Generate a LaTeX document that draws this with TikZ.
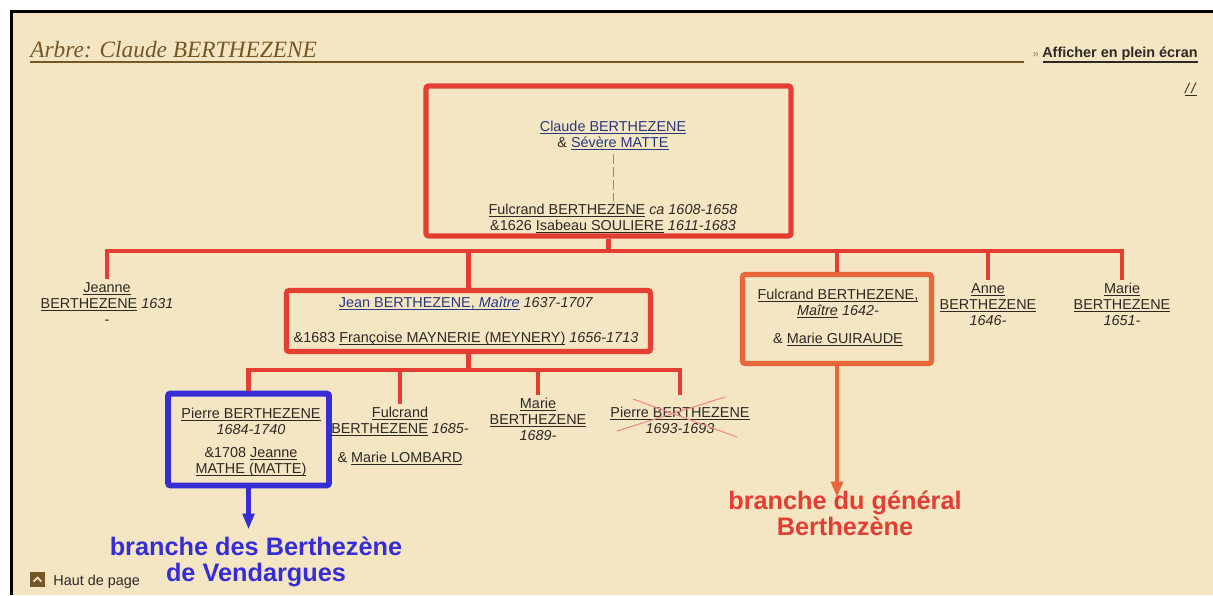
\documentclass[tikz,border=0pt]{standalone}
\usepackage{fontspec}
\setmainfont{Liberation Sans}
\newfontfamily\titlefont{Liberation Serif}
\usetikzlibrary{arrows.meta}

\definecolor{paper}{RGB}{244,230,194}
\definecolor{ink}{RGB}{45,42,38}
\definecolor{linkblue}{RGB}{40,55,130}
\definecolor{treered}{RGB}{228,62,50}
\definecolor{boxorange}{RGB}{232,102,58}
\definecolor{boxblue}{RGB}{55,45,215}
\definecolor{titlebrown}{RGB}{118,86,36}

\newcommand\lnk[1]{\underline{\raisebox{0pt}[\height][0pt]{#1}}}
\newcommand\treefont{\fontsize{8.2}{9.1}\selectfont}

\begin{document}
\begin{tikzpicture}[x=0.02cm,y=-0.02cm,
  tree/.style={draw=treered,line width=2.3pt},
  pbox/.style={draw=#1,line width=3pt,rounded corners=1.5pt,inner sep=0pt},
  person/.style={align=center,inner sep=0pt,inner ysep=1.5pt,font=\treefont,text=ink,anchor=base},
  branchlabel/.style={align=center,inner sep=0pt,font=\fontsize{14.4}{14.6}\selectfont\bfseries,anchor=base},
  branch/.style={draw=#1,line width=2.3pt,-{Triangle[length=9pt,width=6.5pt]}}]
% Page
\useasboundingbox (0,0) rectangle (1213,595);
\fill[paper] (10,10) rectangle (1213,595);
\draw[line width=1.7pt] (11.5,595) -- (11.5,11.5) -- (1213,11.5);

% Header
\node[anchor=base west,inner sep=0pt,text=titlebrown,font=\titlefont\itshape\fontsize{13.3}{14}\selectfont] (title) at (30,57) {Arbre: Claude BERTHEZENE};
\draw[titlebrown,line width=0.9pt] (30,62) -- (1024,62);
\node[anchor=base east,inner sep=0pt,font=\treefont\bfseries,text=ink] (fullscreen) at (1198,57) {Afficher en plein écran};
\draw[ink,line width=0.8pt] (1043,62) -- (1198,62);
\node[anchor=base east,inner sep=0pt,font=\fontsize{6}{6}\selectfont,text=gray] (raquo) at (1039,57) {»};
\node[anchor=base east,inner sep=0pt,font=\treefont,text=ink] (slashes) at (1197,93) {\lnk{\textit{/\,/}}};

% Claude and Fulcrand (base = last line)
\node[pbox=treered,minimum width=7.3cm,minimum height=3cm] (topbox) at (608.5,161) {};
\node[person,text=linkblue] (claude) at (613,147) {\lnk{Claude BERTHEZENE}\\{\color{ink}\&} \lnk{Sévère MATTE}};
\node[person] (fulcrand) at (613,230) {\lnk{Fulcrand BERTHEZENE} \textit{ca 1608-1658}\\\&1626 \lnk{Isabeau SOULIERE} \textit{1611-1683}};
\draw[titlebrown!70,line width=0.5pt,dash pattern=on 6pt off 1.5pt] (claude) -- (fulcrand);

% Children of Fulcrand
\coordinate (bus1) at (608.5,251);
\draw[tree] (topbox.south) -- (bus1);
\node[person] (jeanne) at (107,324) {\lnk{Jeanne}\\\lnk{BERTHEZENE} \textit{1631}\\-};
\node[person] (anne) at (988,325) {\lnk{Anne}\\\lnk{BERTHEZENE}\\\textit{1646-}};
\node[person] (marie) at (1122,325) {\lnk{Marie}\\\lnk{BERTHEZENE}\\\textit{1651-}};
\node[pbox=treered,minimum width=7.28cm,minimum height=1.22cm] (jeanbox) at (468.5,321) {};
\node[person,text=linkblue] (jean) at (466,307) {\lnk{Jean BERTHEZENE, \textit{Maître}} {\color{ink}\textit{1637-1707}}};
\node[person] (francoise) at (466,342) {\&1683 \lnk{Françoise MAYNERIE (MEYNERY)} \textit{1656-1713}};
\node[pbox=boxorange,minimum width=3.78cm,minimum height=1.78cm] (fulcbox) at (837,319) {};
\node[person] (fulcrandB) at (838,343) {\lnk{Fulcrand BERTHEZENE,}\\\lnk{\textit{Maître}} \textit{1642-}\\[6.8pt]\& \lnk{Marie GUIRAUDE}};
\draw[tree] (jeanne.north) |- (bus1) -| (marie.north);
\draw[tree] (jeanbox.north) -- (jeanbox.north |- bus1);
\draw[tree] (fulcbox.north) -- (fulcbox.north |- bus1);
\draw[tree] (anne.north) -- (anne.north |- bus1);

% Children of Jean
\coordinate (bus2) at (468.5,370);
\draw[tree] (jeanbox.south) -- (bus2);
\node[pbox=boxblue,line width=3.4pt,minimum width=3.22cm,minimum height=1.84cm] (bluebox) at (248.5,439.5) {};
\node[person] (pierreA) at (251,473) {\lnk{Pierre BERTHEZENE}\\\textit{1684-1740}\\[4pt]\&1708 \lnk{Jeanne}\\\lnk{MATHE (MATTE)}};
\node[person] (fulcrandC) at (400,462) {\lnk{Fulcrand}\\\lnk{BERTHEZENE} \textit{1685-}\\[7.3pt]\& \lnk{Marie LOMBARD}};
\node[person] (marieB) at (538,440) {\lnk{Marie}\\\lnk{BERTHEZENE}\\\textit{1689-}};
\node[person] (pierreB) at (680,433) {\lnk{Pierre BERTHEZENE}\\\textit{1693-1693}};
\draw[tree,shorten >=5pt] (bluebox.north) |- (bus2) -| (pierreB.north);
\draw[tree] (fulcrandC.north) -- (fulcrandC.north |- bus2);
\draw[tree] (marieB.north) -- (marieB.north |- bus2);
\draw[treered!60,line width=0.6pt] (617,431) -- (725,397) (633,399) -- (737,437);

% Branches
\node[branchlabel,text=boxblue] (vendargues) at (256,581) {branche des Berthezène\\de Vendargues};
\node[branchlabel,text=treered] (general) at (845,535) {branche du général\\Berthezène};
\draw[branch=boxblue,shorten >=4pt] (bluebox.south) -- (bluebox.south |- vendargues.north);
\draw[branch=boxorange,shorten >=-4pt] (fulcbox.south) -- (fulcbox.south |- general.north);

% Footer
\node[fill=titlebrown,minimum size=0.3cm,inner sep=0pt] (topicon) at (37.5,579.5) {};
\draw[paper,line width=1pt] ([shift={(-4,2)}]topicon.center) -- ([shift={(0,-2)}]topicon.center) -- ([shift={(4,2)}]topicon.center);
\node[anchor=base west,inner sep=0pt,font=\treefont,text=ink] (haut) at (53,585) {Haut de page};
\end{tikzpicture}
\end{document}
